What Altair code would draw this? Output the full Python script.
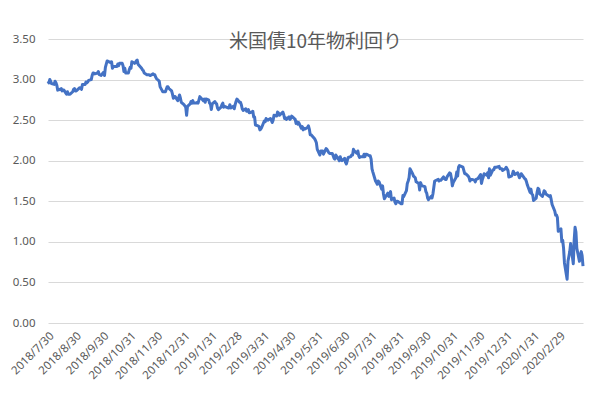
import altair as alt
import pandas as pd

title_text = "米国債10年物利回り"

# US 10y yield, trading days per month
yields_by_month = {
    "2018-07": [2.98, 2.96],
    "2018-08": [3.00, 2.98, 2.95, 2.94, 2.98, 2.96, 2.93, 2.87, 2.88, 2.89, 2.86, 2.87, 2.87, 2.82, 2.85, 2.82, 2.82, 2.82, 2.85, 2.88, 2.89, 2.86, 2.86],
    "2018-09": [2.90, 2.90, 2.88, 2.94, 2.94, 2.97, 2.96, 2.97, 2.99, 3.00, 3.05, 3.08, 3.08, 3.07, 3.08, 3.10, 3.06, 3.06, 3.05],
    "2018-10": [3.09, 3.05, 3.15, 3.19, 3.23, 3.21, 3.22, 3.14, 3.16, 3.16, 3.16, 3.19, 3.17, 3.20, 3.20, 3.17, 3.10, 3.14, 3.08, 3.08, 3.12, 3.15],
    "2018-11": [3.14, 3.22, 3.20, 3.21, 3.23, 3.24, 3.19, 3.14, 3.12, 3.11, 3.08, 3.06, 3.06, 3.06, 3.05, 3.07, 3.06, 3.06, 3.03, 3.01],
    "2018-12": [2.98, 2.91, 2.87, 2.85, 2.85, 2.88, 2.91, 2.91, 2.89, 2.86, 2.82, 2.77, 2.79, 2.79, 2.74, 2.81, 2.77, 2.72, 2.69],
    "2019-01": [2.66, 2.56, 2.67, 2.70, 2.73, 2.71, 2.74, 2.71, 2.71, 2.72, 2.71, 2.75, 2.79, 2.74, 2.76, 2.72, 2.76, 2.75, 2.71, 2.70, 2.63],
    "2019-02": [2.70, 2.73, 2.71, 2.70, 2.65, 2.63, 2.66, 2.69, 2.71, 2.66, 2.67, 2.65, 2.65, 2.69, 2.65, 2.67, 2.64, 2.69, 2.73],
    "2019-03": [2.76, 2.72, 2.72, 2.69, 2.64, 2.62, 2.64, 2.61, 2.61, 2.63, 2.59, 2.60, 2.61, 2.54, 2.54, 2.44, 2.43, 2.42, 2.38, 2.39, 2.41],
    "2019-04": [2.49, 2.48, 2.52, 2.51, 2.50, 2.52, 2.50, 2.47, 2.50, 2.56, 2.55, 2.60, 2.59, 2.56, 2.60, 2.57, 2.52, 2.53, 2.51, 2.54, 2.51],
    "2019-05": [2.52, 2.55, 2.54, 2.51, 2.46, 2.48, 2.45, 2.47, 2.40, 2.42, 2.38, 2.40, 2.39, 2.41, 2.43, 2.39, 2.32, 2.32, 2.27, 2.25, 2.22, 2.14],
    "2019-06": [2.07, 2.12, 2.12, 2.12, 2.08, 2.15, 2.14, 2.12, 2.10, 2.09, 2.09, 2.06, 2.03, 2.02, 2.07, 2.02, 2.00, 2.05, 2.01, 2.00],
    "2019-07": [2.03, 1.98, 1.96, 2.04, 2.05, 2.07, 2.07, 2.14, 2.12, 2.09, 2.12, 2.06, 2.04, 2.05, 2.05, 2.08, 2.05, 2.08, 2.08, 2.06, 2.06, 2.02],
    "2019-08": [1.90, 1.86, 1.75, 1.73, 1.71, 1.75, 1.74, 1.65, 1.69, 1.59, 1.53, 1.55, 1.60, 1.56, 1.59, 1.62, 1.52, 1.54, 1.49, 1.47, 1.50, 1.50],
    "2019-09": [1.47, 1.47, 1.57, 1.56, 1.63, 1.72, 1.75, 1.79, 1.90, 1.84, 1.81, 1.80, 1.79, 1.74, 1.72, 1.64, 1.73, 1.70, 1.69, 1.68],
    "2019-10": [1.62, 1.60, 1.54, 1.52, 1.56, 1.54, 1.59, 1.67, 1.75, 1.77, 1.75, 1.76, 1.76, 1.80, 1.78, 1.77, 1.77, 1.80, 1.85, 1.84, 1.78, 1.69],
    "2019-11": [1.73, 1.79, 1.86, 1.81, 1.92, 1.94, 1.92, 1.88, 1.84, 1.84, 1.81, 1.79, 1.75, 1.77, 1.77, 1.76, 1.74, 1.77, 1.78],
    "2019-12": [1.83, 1.72, 1.77, 1.80, 1.84, 1.82, 1.85, 1.79, 1.90, 1.82, 1.89, 1.89, 1.92, 1.92, 1.92, 1.93, 1.90, 1.90, 1.88, 1.90, 1.92],
    "2020-01": [1.88, 1.80, 1.81, 1.83, 1.87, 1.85, 1.83, 1.85, 1.82, 1.79, 1.81, 1.84, 1.78, 1.77, 1.74, 1.70, 1.61, 1.65, 1.59, 1.58, 1.51],
    "2020-02": [1.54, 1.61, 1.66, 1.65, 1.59, 1.56, 1.59, 1.63, 1.62, 1.59, 1.56, 1.57, 1.52, 1.46, 1.38, 1.33, 1.33, 1.30, 1.13],
    "2020-03": [1.16, 1.00, 1.02, 0.92, 0.74, 0.54, 0.76, 0.82, 0.88, 0.98, 0.73, 1.02, 1.18, 1.12, 0.92, 0.76, 0.84, 0.88, 0.83, 0.70],
}

market_holidays = [
    "2018-09-03", "2018-10-08", "2018-11-12", "2018-11-22", "2018-12-05", "2018-12-25",
    "2019-01-01", "2019-01-21", "2019-02-18", "2019-04-19", "2019-05-27", "2019-07-04",
    "2019-09-02", "2019-10-14", "2019-11-11", "2019-11-28", "2019-12-25",
    "2020-01-01", "2020-01-20", "2020-02-17",
]

start_date = "2018-07-30"
end_date = "2020-03-27"

tick_dates = [
    "2018-07-30", "2018-08-30", "2018-09-30", "2018-10-31", "2018-11-30", "2018-12-31",
    "2019-01-31", "2019-02-28", "2019-03-31", "2019-04-30", "2019-05-31", "2019-06-30",
    "2019-07-31", "2019-08-31", "2019-09-30", "2019-10-31", "2019-11-30", "2019-12-31",
    "2020-01-31", "2020-02-29",
]
y_ticks = [0.0, 0.5, 1.0, 1.5, 2.0, 2.5, 3.0, 3.5]

# build table
hol = set(pd.to_datetime(market_holidays))
days = [d for d in pd.bdate_range(start_date, end_date) if d not in hol]
rows = []
for key, vals in yields_by_month.items():
    mdays = [d for d in days if d.strftime("%Y-%m") == key]
    for d, v in zip(mdays, vals):
        rows.append({"date": d.strftime("%Y-%m-%d"), "yield": v})
df = pd.DataFrame(rows)


def ms(s):
    return int(pd.Timestamp(s, tz="UTC").value // 10**6)


grey = "#595959"

chart = (
    alt.Chart(df)
    .mark_line(color="#4472C4", strokeWidth=3, strokeJoin="round")
    .encode(
        x=alt.X(
            "date:T",
            scale=alt.Scale(type="utc", domain=[ms(start_date), ms(end_date)], nice=False),
            axis=alt.Axis(
                values=[ms(t) for t in tick_dates],
                labelExpr="utcFormat(datum.value, '%Y/%-m/%-d')",
                labelAngle=-45,
                labelAlign="right",
                labelBaseline="middle",
                labelPadding=11,
                labelOffset=4,
                labelOverlap=False,
                labelFlush=False,
                labelBound=False,
                labelColor=grey,
                labelFont="Noto Sans",
                labelFontSize=11.5,
                ticks=False,
                domain=False,
                grid=False,
                title=None,
            ),
        ),
        y=alt.Y(
            "yield:Q",
            scale=alt.Scale(domain=[0, 3.5], nice=False),
            axis=alt.Axis(
                values=y_ticks,
                format=".2f",
                grid=True,
                gridColor="#d9d9d9",
                gridWidth=1,
                domain=False,
                ticks=False,
                labelColor=grey,
                labelFont="Noto Sans",
                labelFontSize=11.5,
                labelPadding=13,
                title=None,
            ),
        ),
    )
    .properties(
        width=535,
        height=284,
        autosize=alt.AutoSizeParams(type="none"),
        padding={"left": 40, "top": 31, "right": 9, "bottom": 66},
        title=alt.TitleParams(
            text=title_text,
            anchor="middle",
            font="Noto Sans CJK JP",
            fontSize=19,
            fontWeight="normal",
            color=grey,
            baseline="middle",
            offset=0,
            dy=28,
        ),
    )
    .configure_view(stroke=None)
)

chart.save("out.html", embed_options={"renderer": "svg", "actions": False})
